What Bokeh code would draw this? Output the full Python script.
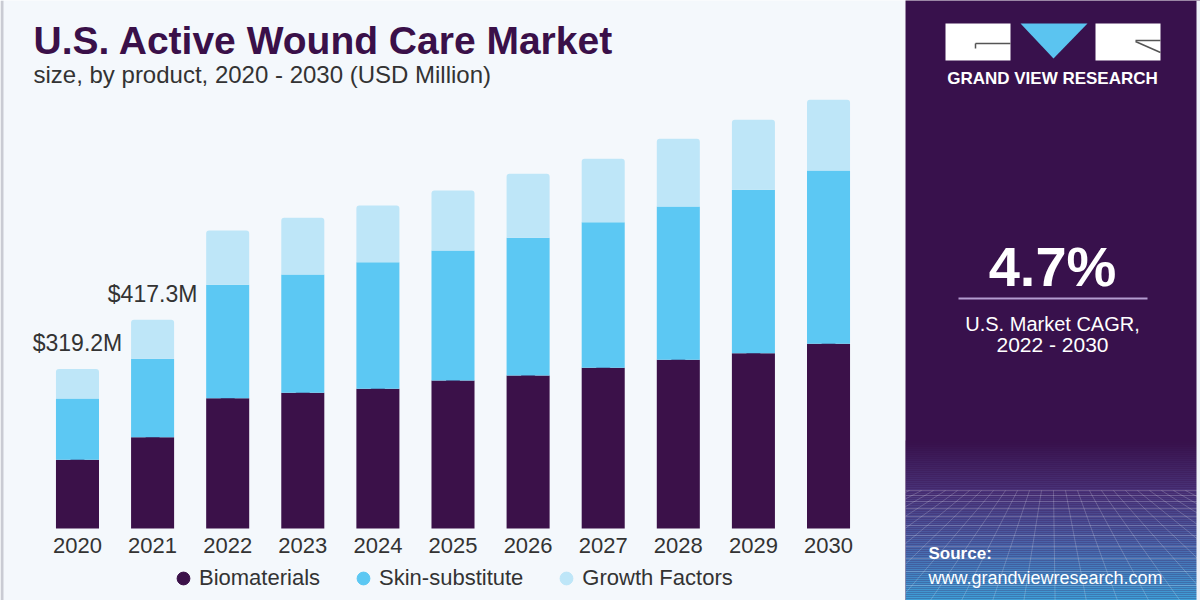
from bokeh.plotting import figure
from bokeh.models import (FactorRange, Range1d, Label, Legend, LegendItem,
                          BoxAnnotation, ColumnDataSource)
from bokeh.layouts import row
from bokeh.embed import file_html
from bokeh.resources import INLINE
from bokeh.core.properties import value

# ---------------- data ----------------
years = ["2020", "2021", "2022", "2023", "2024", "2025",
         "2026", "2027", "2028", "2029", "2030"]
biomaterials = [137.5, 182.3, 260.6, 271.4, 279.4, 296.0,
                306.0, 321.4, 337.4, 350.6, 369.4]
skin_substitute = [122.5, 157.2, 226.8, 236.6, 253.2, 260.0,
                   275.4, 291.2, 306.6, 326.8, 346.6]
growth_factors = [59.2, 77.8, 108.6, 113.4, 113.4, 120.0,
                  128.0, 126.8, 135.4, 140.0, 141.4]
series_names = ["Biomaterials", "Skin-substitute", "Growth Factors"]
annot_years = ["2020", "2021"]
annot_values = [319.2, 417.3]
annot_texts = ["$319.2M", "$417.3M"]
cagr_text = "4.7%"

# ---------------- styles ----------------
FONT = "Liberation Sans"
C_BIO = "#3B1149"
C_SKIN = "#5CC8F3"
C_GROW = "#BEE6F8"
BG = "#F4F8FC"
PURPLE = "#38114C"
TXT = "#333333"

# ---------------- left (chart) panel ----------------
LH = 600
p = figure(width=905, height=LH,
           x_range=FactorRange(factors=years, range_padding=0.525,
                               range_padding_units="absolute"),
           y_range=Range1d(-144, 1056),
           y_axis_location=None, toolbar_location=None,
           output_backend="svg", min_border=0)
p.background_fill_color = BG
p.border_fill_color = BG
p.outline_line_color = None
p.xgrid.visible = False
p.ygrid.visible = False

src = ColumnDataSource(dict(year=years, bio=biomaterials,
                            skin=skin_substitute, grow=growth_factors))

# legend markers: circles drawn first, fully hidden behind the bars
leg_items = []
for name, col, key in zip(series_names, [C_BIO, C_SKIN, C_GROW],
                          ["bio", "skin", "grow"]):
    r = p.scatter(x="year", y=key, source=src, marker="circle", size=13,
                  color=col)
    leg_items.append(LegendItem(label=name, renderers=[r]))

rs = p.vbar_stack(["bio", "skin", "grow"], x="year", width=0.573,
                  source=src, color=[C_BIO, C_SKIN, C_GROW], line_color=None)
rs[2].glyph.border_radius = (3, 3, 0, 0)

ax = p.xaxis[0]
ax.fixed_location = 0
ax.axis_line_color = None
ax.major_tick_line_color = None
ax.minor_tick_line_color = None
ax.major_label_text_font = FONT
ax.major_label_text_font_size = "22px"
ax.major_label_text_color = TXT
ax.major_label_standoff = 3

p.text(x=annot_years, y=annot_values, text=annot_texts,
       text_font=value(FONT), text_font_size="23px", text_color=TXT,
       text_align="center", text_baseline="alphabetic", y_offset=-26)

legend = Legend(items=leg_items, orientation="horizontal", location=(167, 6),
                glyph_width=32, glyph_height=32, label_standoff=-2,
                spacing=27, label_text_font=FONT, label_text_font_size="22px",
                label_text_color=TXT, background_fill_alpha=0,
                border_line_color=None, padding=0, margin=0)
p.add_layout(legend)

# title and subtitle (screen units relative to the plot frame)
p.add_layout(Label(x=33, y=LH - 40, x_units="screen", y_units="screen",
                   text="U.S. Active Wound Care Market", text_font=FONT,
                   text_font_style="bold", text_font_size="39px",
                   text_color="#3A1049", text_baseline="alphabetic"))
p.add_layout(Label(x=33, y=LH - 74, x_units="screen", y_units="screen",
                   text="size, by product, 2020 - 2030 (USD Million)",
                   text_font=FONT, text_font_size="24px", text_color=TXT,
                   text_baseline="alphabetic"))
p.add_layout(BoxAnnotation(left=0, right=3, bottom=0, top=LH,
                           left_units="screen", right_units="screen",
                           bottom_units="screen", top_units="screen",
                           fill_color="#C9CBD3", fill_alpha=1, line_color=None))

# ---------------- right (info) panel ----------------
W, H = 295, 600
q = figure(width=W, height=H, x_range=Range1d(0, W), y_range=Range1d(0, H),
           x_axis_location=None, y_axis_location=None, toolbar_location=None,
           output_backend="svg", min_border=0)
q.background_fill_color = PURPLE
q.border_fill_color = PURPLE
q.outline_line_color = None
q.xgrid.visible = False
q.ygrid.visible = False

# bottom gradient
stops = [(440, (56, 17, 76)), (490, (74, 52, 122)), (540, (74, 98, 168)),
         (600, (62, 162, 218))]
tops, bots, cols = [], [], []
for yt in range(440, 600, 2):
    for (a, ca), (b, cb) in zip(stops[:-1], stops[1:]):
        if a <= yt < b:
            t = (yt - a) / (b - a)
            c = tuple(int(ca[i] + (cb[i] - ca[i]) * t) for i in range(3))
            break
    tops.append(H - yt)
    bots.append(H - yt - 2)
    cols.append("#%02x%02x%02x" % c)
q.quad(left=0, right=W, top=tops, bottom=bots, color=cols, line_color=None)

# perspective grid
hy = [490, 495, 501, 508, 516, 525, 535, 546, 558, 571, 585, 600]
q.segment(x0=[0] * len(hy), x1=[W] * len(hy), y0=[H - v for v in hy],
          y1=[H - v for v in hy], line_color="white", line_alpha=0.2,
          line_width=1)
xs_top = list(range(-20, 320, 12))
x0s, x1s = [], []
for xt in xs_top:
    x0s.append(xt)
    x1s.append(147 + (xt - 147) * 2.6)
q.segment(x0=x0s, x1=x1s, y0=[H - 490] * len(x0s), y1=[0] * len(x0s),
          line_color="white", line_alpha=0.2, line_width=1)

# logo
q.quad(left=[40, 190], right=[105, 255], top=[H - 23, H - 23],
       bottom=[H - 60, H - 60], color="white", line_color=None)
q.patch(x=[115, 182, 148], y=[H - 23, H - 23, H - 58], color="#5BC4F0",
        line_color=None)
q.segment(x0=[70, 70, 230, 230], x1=[105, 70, 255, 255],
          y0=[H - 43, H - 43, H - 40, H - 41],
          y1=[H - 43, H - 48, H - 40, H - 52], line_color="#555555",
          line_width=1.5)
q.add_layout(Label(x=147, y=H - 78, text="GRAND VIEW RESEARCH", text_font=FONT,
                   text_font_style="bold", text_font_size="17px",
                   text_color="white", text_align="center",
                   text_baseline="alphabetic"))

# CAGR
q.add_layout(Label(x=147, y=H - 266, text=cagr_text, text_font=FONT,
                   text_font_style="bold", text_font_size="56px",
                   text_color="white", text_align="center",
                   text_baseline="alphabetic"))
q.segment(x0=[53], x1=[242], y0=[H - 298], y1=[H - 298], line_color="#B49CD0",
          line_width=2)
q.add_layout(Label(x=147, y=H - 323, text="U.S. Market CAGR,", text_font=FONT,
                   text_font_size="20px", text_color="white",
                   text_align="center", text_baseline="alphabetic"))
q.add_layout(Label(x=147, y=H - 344, text="2022 - 2030", text_font=FONT,
                   text_font_size="21px", text_color="white",
                   text_align="center", text_baseline="alphabetic"))

# source
q.add_layout(Label(x=23, y=H - 553, text="Source:", text_font=FONT,
                   text_font_style="bold", text_font_size="17px",
                   text_color="white", text_baseline="alphabetic"))
q.add_layout(Label(x=23, y=H - 577, text="www.grandviewresearch.com",
                   text_font=FONT, text_font_size="18px", text_color="white",
                   text_baseline="alphabetic"))

# right light edge
q.quad(left=[W - 4], right=[W], top=[H], bottom=[0], color="#EEF2F8",
       line_color=None)

layout = row(p, q, spacing=0)
open("out.html", "w").write(file_html(layout, INLINE))
